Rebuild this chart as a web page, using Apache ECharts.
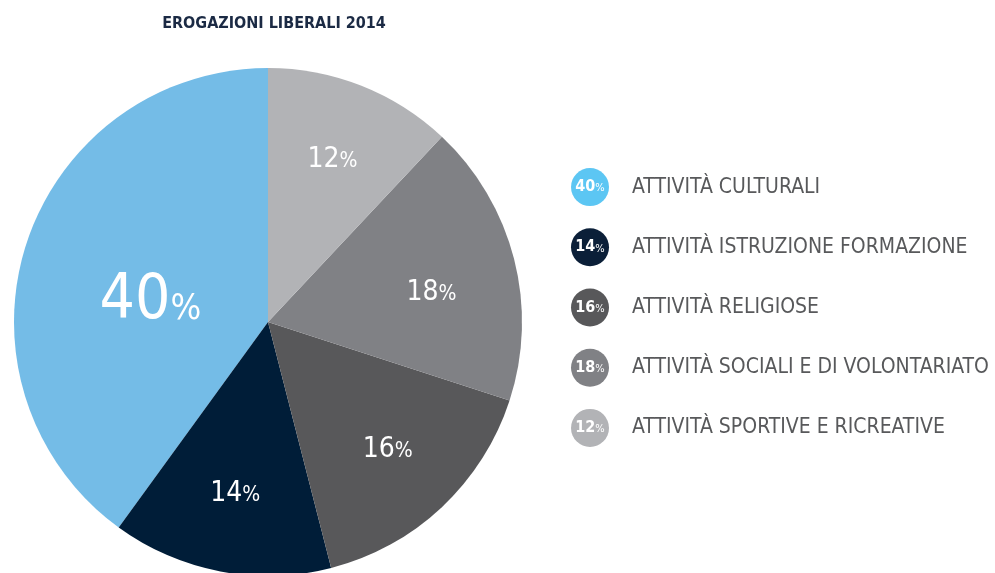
<!DOCTYPE html>
<html>
<head>
<meta charset="utf-8">
<script src="https://cdn.jsdelivr.net/npm/echarts@6/dist/echarts.min.js"></script>
<style>
  html, body { margin: 0; padding: 0; background: #ffffff; }
  #chart { width: 995px; height: 573px; }
</style>
</head>
<body>
<div id="chart"></div>
<script>
// Erogazioni liberali 2014 — share of donations by activity
const title = 'EROGAZIONI LIBERALI 2014';
const categories = [
  'ATTIVITÀ CULTURALI',
  'ATTIVITÀ ISTRUZIONE FORMAZIONE',
  'ATTIVITÀ RELIGIOSE',
  'ATTIVITÀ SOCIALI E DI VOLONTARIATO',
  'ATTIVITÀ SPORTIVE E RICREATIVE'
];
const shares = [40, 14, 16, 18, 12];

// slice colours and badge colours
const pieColors = ['#74bce7', '#001d38', '#58585a', '#808185', '#b2b3b6'];
const badgeColors = ['#5cc6f3', '#0b1f38', '#58585a', '#808185', '#b2b3b6'];

const FONT = "'DejaVu Sans Condensed', 'Liberation Sans Narrow', 'Roboto', sans-serif";

const chart = echarts.init(document.getElementById('chart'), null, { renderer: 'canvas' });

chart.setOption({
  animation: false,
  backgroundColor: '#ffffff',
  title: {
    text: title,
    left: 269, top: 11,
    textAlign: 'center',
    textStyle: { fontFamily: FONT, fontWeight: 'bold', fontSize: 16, color: '#1b2a44' }
  },
  grid: { left: 590, width: 100, top: 157, height: 301 },
  xAxis: { type: 'value', min: 0, max: 1, show: false },
  yAxis: { type: 'category', data: categories, inverse: true, show: false },
  series: [
    {
      // the pie itself; the large slice carries its own big label
      type: 'pie',
      center: [268, 322],
      radius: [0, 254],
      startAngle: 90,
      clockwise: false,
      silent: true,
      data: categories.map((name, i) => ({
        name, value: shares[i],
        itemStyle: { color: pieColors[i] },
        label: { show: i === 0 }
      })),
      label: {
        position: 'inside',
        offset: [6, 20],
        formatter: p => '{n|' + p.value + '}{p|%}',
        rich: {
          n: { fontFamily: FONT, fontSize: 62, color: '#ffffff' },
          p: { fontFamily: FONT, fontSize: 36, color: '#ffffff', padding: [16, 0, 0, 0] }
        }
      },
      labelLine: { show: false }
    },
    {
      // transparent ring carrying the labels of the smaller slices
      type: 'pie',
      center: [268, 322],
      radius: [90, 254],
      startAngle: 90,
      clockwise: false,
      silent: true,
      z: 3,
      data: categories.map((name, i) => ({
        name, value: shares[i],
        itemStyle: { color: 'rgba(0,0,0,0)' },
        label: { show: i !== 0, offset: i === 3 ? [-6, 14] : [0, 0] }
      })),
      label: {
        position: 'inside',
        formatter: p => '{n|' + p.value + '}{p|%}',
        rich: {
          n: { fontFamily: FONT, fontSize: 28, color: '#ffffff' },
          p: { fontFamily: FONT, fontSize: 21, color: '#ffffff', padding: [4, 0, 0, 0] }
        }
      },
      labelLine: { show: false }
    },
    {
      // legend badges with the percentage inside
      type: 'scatter',
      symbol: 'circle',
      symbolSize: 38,
      silent: true,
      itemStyle: { opacity: 1 },
      data: categories.map((name, i) => ({
        value: [0, name],
        itemStyle: { color: badgeColors[i], opacity: 1 }
      })),
      label: {
        show: true,
        position: 'inside',
        formatter: p => '{n|' + shares[p.dataIndex] + '}{p|%}',
        rich: {
          n: { fontFamily: FONT, fontSize: 16, fontWeight: 'bold', color: '#ffffff' },
          p: { fontFamily: FONT, fontSize: 11, color: '#ffffff', padding: [3, 0, 0, 0] }
        }
      }
    },
    {
      // legend names beside the badges
      type: 'scatter',
      symbol: 'circle',
      symbolSize: 38,
      silent: true,
      itemStyle: { color: 'rgba(0,0,0,0)', opacity: 1 },
      data: categories.map(name => [0, name]),
      label: {
        show: true,
        position: 'right',
        distance: 23,
        formatter: p => categories[p.dataIndex],
        fontFamily: FONT,
        fontSize: 21,
        color: '#58595b'
      }
    }
  ]
});
</script>
</body>
</html>
